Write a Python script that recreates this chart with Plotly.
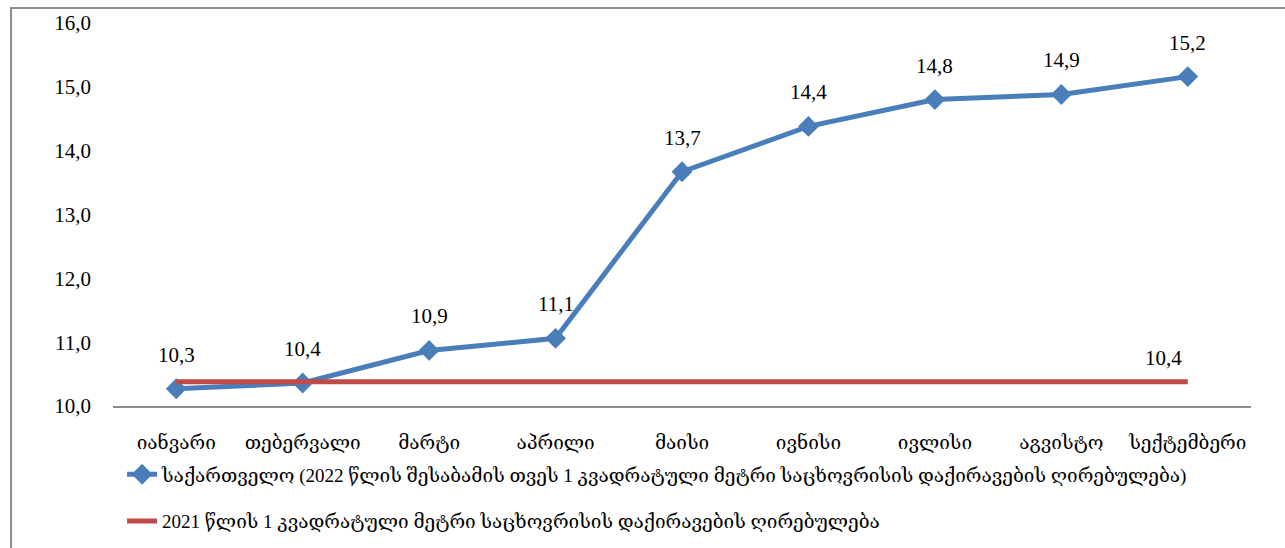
import plotly.graph_objects as go

months = ["იანვარი", "თებერვალი", "მარტი", "აპრილი", "მაისი", "ივნისი", "ივლისი", "აგვისტო", "სექტემბერი"]
georgia_2022 = [10.27, 10.36, 10.87, 11.06, 13.67, 14.38, 14.80, 14.88, 15.16]
base_2021 = [10.38] * len(months)
name_2022 = "საქართველო (2022 წლის შესაბამის თვეს 1 კვადრატული მეტრი საცხოვრისის დაქირავების ღირებულება)"
name_2021 = "2021 წლის 1 კვადრატული მეტრი საცხოვრისის დაქირავების ღირებულება"
y_ticks = [10, 11, 12, 13, 14, 15, 16]

FONT = "Liberation Serif, DejaVu Serif, serif"
BLUE = "#4A7EBB"
RED = "#BE4B48"

def fmt(v):
    return f"{v:.1f}".replace(".", ",")

fig = go.Figure()
fig.add_trace(go.Scatter(
    x=months, y=georgia_2022, name=name_2022, mode="lines+markers",
    line=dict(color=BLUE, width=5),
    marker=dict(symbol="diamond", size=16, color=BLUE),
    legendgroup="a",
))
fig.add_trace(go.Scatter(
    x=months, y=base_2021, name=name_2021, mode="lines",
    line=dict(color=RED, width=5),
    legendgroup="b",
))

annotations = []
for m, v in zip(months, georgia_2022):
    annotations.append(dict(x=m, y=v, text=fmt(v), showarrow=False, yshift=34,
                            font=dict(family=FONT, size=21, color="#000")))
annotations.append(dict(x=months[-1], y=base_2021[-1], text=fmt(base_2021[-1]), showarrow=False,
                        xshift=-24, yshift=24, font=dict(family=FONT, size=21, color="#000")))

fig.update_layout(
    width=1285, height=548,
    margin=dict(l=113, r=34, t=23, b=142, autoexpand=False),
    paper_bgcolor="white", plot_bgcolor="white",
    font=dict(family=FONT, size=19, color="#000"),
    showlegend=True,
    legend=dict(xref="container", yref="container", x=0.095, y=0.169,
                xanchor="left", yanchor="top",
                font=dict(family=FONT, size=19, color="#000"),
                tracegroupgap=19, bgcolor="rgba(0,0,0,0)"),
    annotations=annotations,
    shapes=[dict(type="rect", xref="paper", yref="paper",
                 x0=-0.0896, x1=1.2, y0=-1.0, y1=1.039,
                 line=dict(color="#8c8c8c", width=2), fillcolor="rgba(0,0,0,0)", layer="below")],
)
fig.update_xaxes(type="category", showgrid=False, showline=True, linecolor="#8c8c8c", linewidth=2,
                 ticks="", ticklabelstandoff=18, tickfont=dict(family=FONT, size=19),
                 range=[-0.5, len(months) - 0.5], zeroline=False)
fig.update_yaxes(range=[10, 16], tickvals=y_ticks, ticktext=[fmt(v) for v in y_ticks],
                 showgrid=False, showline=False, zeroline=False, ticks="",
                 ticklabelstandoff=21, tickfont=dict(family=FONT, size=21))

fig.write_html("out.html")
